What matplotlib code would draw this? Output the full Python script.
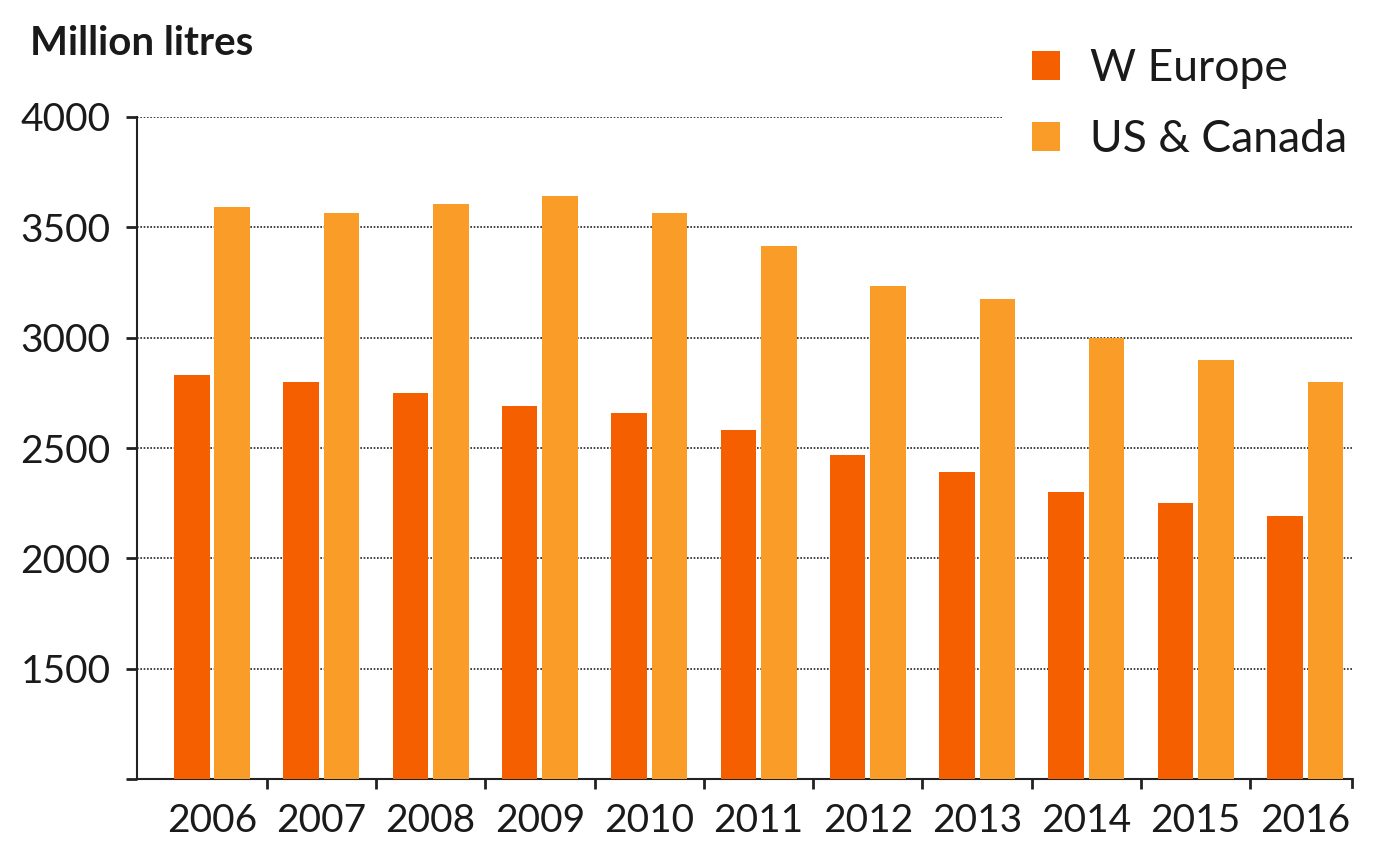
import numpy as np
import matplotlib.pyplot as plt

years = ['2006', '2007', '2008', '2009', '2010', '2011', '2012', '2013', '2014', '2015', '2016']
w_europe = [2830, 2800, 2750, 2690, 2660, 2580, 2470, 2390, 2300, 2250, 2190]
us_canada = [3590, 3565, 3605, 3640, 3565, 3415, 3235, 3175, 3000, 2900, 2800]
y_ticks = [1000, 1500, 2000, 2500, 3000, 3500, 4000]
y_labels = ['', '1500', '2000', '2500', '3000', '3500', '4000']

dark_orange = '#F55F00'
light_orange = '#F99D28'
text_col = '#1a1a1a'

plt.rcParams['font.family'] = ['Lato', 'DejaVu Sans']

fig = plt.figure(figsize=(13.91, 8.59), dpi=100)
ax = fig.add_axes([0.0985, 0.0931, 0.8735, 0.7707])

x = np.arange(len(years))
w = 0.325
ax.bar(x - 0.185, w_europe, width=w, color=dark_orange, zorder=3, label='W Europe')
ax.bar(x + 0.185, us_canada, width=w, color=light_orange, zorder=3, label='US & Canada')

ax.set_xlim(-0.686, 10.43)
ax.set_ylim(1000, 4000)

# dotted gridlines, the top one stops short of the legend
for v in y_ticks[1:]:
    xmax = 0.713 if v == 4000 else 1.0
    ax.axhline(v, xmin=0, xmax=xmax, color='#222222', lw=1.2,
               ls=(0, (1, 1)), zorder=1)

ax.set_yticks(y_ticks)
ax.set_yticklabels(y_labels)
ax.tick_params(axis='y', length=8, width=2, color='#222222', pad=11,
               labelsize=28, labelcolor=text_col)

# year labels at group centres, ticks at group boundaries
ax.set_xticks(x)
ax.set_xticklabels(years)
ax.set_xticks(np.arange(len(years) - 1) + 0.5, minor=True)
ax.tick_params(axis='x', which='major', length=0, pad=17,
               labelsize=28, labelcolor=text_col)
ax.tick_params(axis='x', which='minor', length=7, width=2, color='#222222')

for s in ['top', 'right']:
    ax.spines[s].set_visible(False)
for s in ['left', 'bottom']:
    ax.spines[s].set_color('#222222')
    ax.spines[s].set_linewidth(1.5)

# end tick on the right of the x axis
ax.plot([1.0, 1.0], [0, -0.012], transform=ax.transAxes, color='#222222',
        lw=2, clip_on=False)

fig.text(0.0216, 0.936, 'Million litres', fontsize=29, fontweight='bold',
         color=text_col, va='baseline', ha='left')

leg = fig.legend(loc='upper left', bbox_to_anchor=(0.726, 0.970), frameon=False,
                 fontsize=32, handlelength=0.63, handleheight=0.63,
                 handletextpad=0.68, labelspacing=0.67, borderpad=0)
for t in leg.get_texts():
    t.set_color(text_col)

fig.savefig('out.png', dpi=100, facecolor='white')
